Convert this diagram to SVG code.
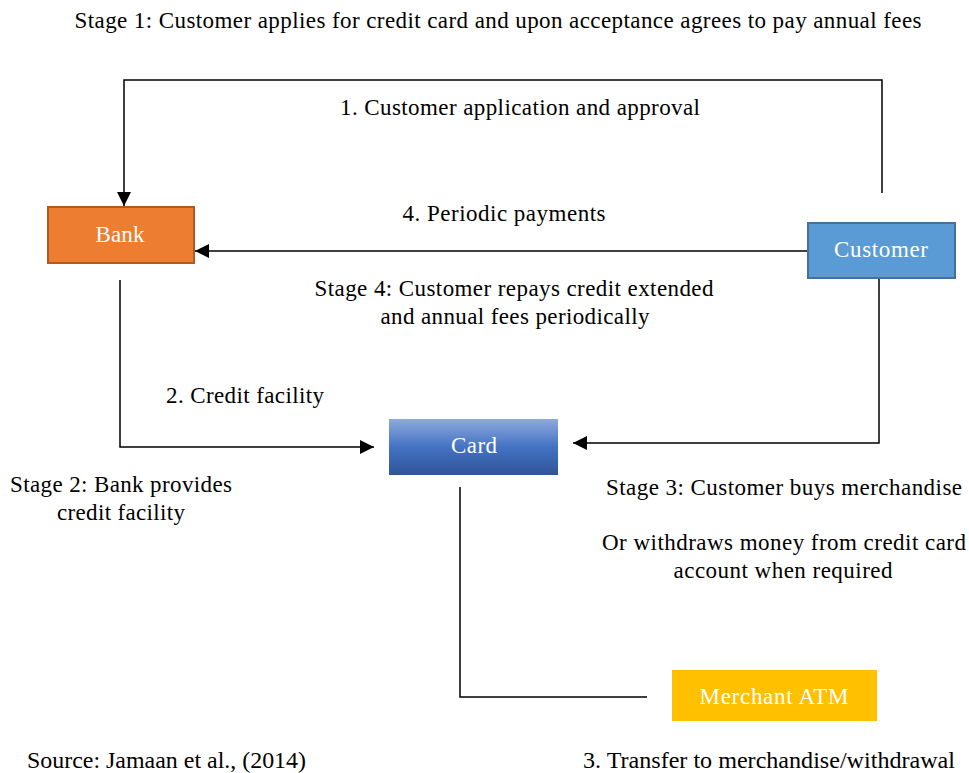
<svg xmlns="http://www.w3.org/2000/svg" width="969" height="773" viewBox="0 0 969 773">
<style>
text{font-family:"Liberation Serif","Times New Roman",serif;font-size:23px;fill:#000}
.c{text-anchor:middle}
.w{fill:#fff;text-anchor:middle}
.ln{fill:none;stroke:#000;stroke-width:1.5}
</style>
<defs>
<marker id="ah" viewBox="0 0 10 10" refX="10" refY="5" markerWidth="14" markerHeight="14" markerUnits="userSpaceOnUse" orient="auto"><path d="M0,0L10,5L0,10z" fill="#000"/></marker>
<linearGradient id="cg" x1="0" y1="0" x2="0" y2="1"><stop offset="0" stop-color="#8FAADC"/><stop offset="0.5" stop-color="#4472C4"/><stop offset="1" stop-color="#2F5597"/></linearGradient>
</defs>
<rect width="969" height="773" fill="#fff"/>
<g id="connectors">
<path class="ln" d="M882,193V80H124V206" marker-end="url(#ah)"/>
<path class="ln" d="M807,251H195" marker-end="url(#ah)"/>
<path class="ln" d="M120,280V447H374" marker-end="url(#ah)"/>
<path class="ln" d="M879,279V443H573" marker-end="url(#ah)"/>
<path class="ln" d="M460,487V697H647"/>
</g>
<g id="bank"><rect x="48" y="207" width="146" height="56" fill="#ED7D31" stroke="#AE5A21" stroke-width="2"/><text class="w" x="120" y="242" textLength="49">Bank</text></g>
<g id="customer"><rect x="808" y="223" width="147" height="55" fill="#5B9BD5" stroke="#41719C" stroke-width="2"/><text class="w" x="881" y="257" textLength="94">Customer</text></g>
<g id="card"><rect x="389" y="419" width="169" height="56" fill="url(#cg)"/><text class="w" x="474" y="453" textLength="46">Card</text></g>
<g id="merchant"><rect x="672" y="670" width="205" height="51" fill="#FFC000"/><text class="w" x="774" y="704" textLength="149">Merchant ATM</text></g>
<g id="labels">
<text class="c" x="498" y="28" textLength="847">Stage 1: Customer applies for credit card and upon acceptance agrees to pay annual fees</text>
<text class="c" x="520" y="115" textLength="360">1. Customer application and approval</text>
<text class="c" x="504" y="221" textLength="203">4. Periodic payments</text>
<text class="c" x="514" y="296" textLength="399">Stage 4: Customer repays credit extended</text>
<text class="c" x="515" y="324" textLength="269">and annual fees periodically</text>
<text class="c" x="245" y="403" textLength="158">2. Credit facility</text>
<text class="c" x="121" y="492" textLength="222">Stage 2: Bank provides</text>
<text class="c" x="121" y="520" textLength="128">credit facility</text>
<text class="c" x="784" y="495" textLength="356">Stage 3: Customer buys merchandise</text>
<text class="c" x="784" y="550" textLength="364">Or withdraws money from credit card</text>
<text class="c" x="783" y="578" textLength="219">account when required</text>
<text x="27" y="768" textLength="279" lengthAdjust="spacingAndGlyphs">Source: Jamaan et al., (2014)</text>
<text x="583" y="768" textLength="372" lengthAdjust="spacingAndGlyphs">3. Transfer to merchandise/withdrawal</text>
</g>
</svg>
